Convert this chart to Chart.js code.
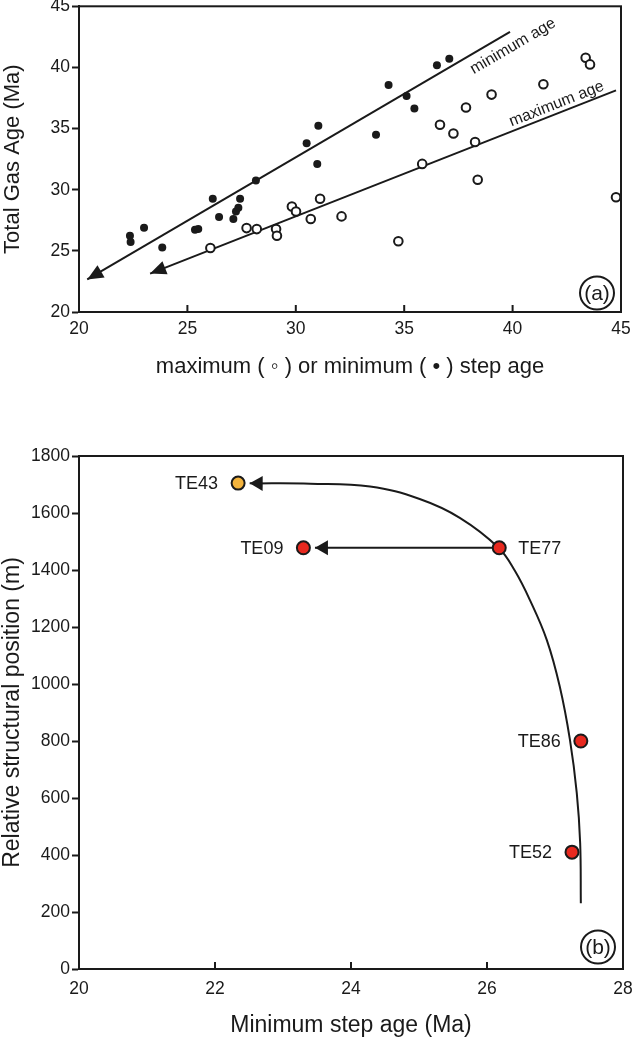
<!DOCTYPE html>
<html>
<head>
<meta charset="utf-8">
<script src="https://cdn.jsdelivr.net/npm/chart.js@4.4.1/dist/chart.umd.min.js"></script>
<style>
  body { margin: 0; background: #fff; width: 634px; height: 1041px; overflow: hidden; position: relative; }
  canvas { position: absolute; left: 0; }
  #chartA { top: 0; }
  #chartB { top: 400px; }
</style>
</head>
<body>
<canvas id="chartA" width="634" height="390"></canvas>
<canvas id="chartB" width="634" height="641"></canvas>
<script>
// ---- panel (a): total gas age vs step ages ----
const minStepAge = [22.35, 22.38, 23.0, 23.84, 25.35, 25.5, 26.17, 26.46, 27.12, 27.24, 27.35, 27.43, 28.16, 30.5, 30.99, 31.04, 33.7, 34.28, 35.11, 35.47, 36.51, 37.08]
const minGasAge  = [26.24, 25.73, 26.9, 25.27, 26.73, 26.78, 29.26, 27.76, 27.6, 28.22, 28.52, 29.26, 30.75, 33.8, 32.1, 35.23, 34.5, 38.57, 37.67, 36.64, 40.17, 40.71]
const maxStepAge = [26.06, 27.73, 28.2, 29.09, 29.13, 29.82, 30.01, 30.69, 31.12, 32.11, 34.73, 35.83, 36.65, 37.27, 37.85, 38.27, 38.39, 39.03, 41.42, 43.37, 43.57, 44.77]
const maxGasAge  = [25.23, 26.86, 26.78, 26.78, 26.24, 28.63, 28.22, 27.6, 29.26, 27.82, 25.78, 32.11, 35.31, 34.6, 36.72, 33.9, 30.81, 37.78, 38.62, 40.79, 40.25, 29.39]
const minTrendX = [20.38, 39.88]
const minTrendY = [22.66, 42.91]
const maxTrendX = [23.28, 44.77]
const maxTrendY = [23.14, 38.13]

// ---- panel (b): structural position vs minimum step age ----
const samples    = ['TE43', 'TE09', 'TE77', 'TE86', 'TE52']
const sampleAge  = [22.34, 23.30, 26.18, 27.38, 27.25]
const samplePos  = [1705, 1478, 1478, 800, 410]
const curveAge   = [22.51, 23.40, 24.28, 25.01, 25.60, 26.17, 26.41, 26.63, 26.88, 27.07, 27.22, 27.32, 27.37, 27.38]
const curvePos   = [1704, 1703, 1693, 1649, 1583, 1478, 1397, 1295, 1154, 991, 804, 618, 442, 231]
const shiftAge   = [26.12, 23.47]
const shiftPos   = [1478, 1478]

const sampleColors = ['#f3b33c', '#e8291f', '#e8291f', '#e8291f', '#e8291f']
const labelSide = ['left', 'left', 'right', 'left', 'left']

const FONT = "'Liberation Sans', Arial, sans-serif"
const INK = '#1a1a1a'
const pts = (xs, ys) => xs.map((v, i) => ({x: v, y: ys[i]}))

// frame + inward x ticks
const frame = {
  id: 'frame',
  afterDraw(chart) {
    const {ctx, chartArea: {top, bottom, left, right}, scales: {x}} = chart
    ctx.save()
    ctx.strokeStyle = INK
    ctx.lineWidth = 2
    ctx.strokeRect(left, top, right - left, bottom - top)
    x.ticks.forEach(t => {
      if (t.value <= x.min || t.value >= x.max) return
      const px = x.getPixelForValue(t.value)
      ctx.beginPath()
      ctx.moveTo(px, bottom)
      ctx.lineTo(px, bottom - 7)
      ctx.stroke()
    })
    ctx.restore()
  }
}

// filled arrowheads at the end of a line dataset
const arrowHeads = {
  id: 'arrowHeads',
  afterDatasetsDraw(chart) {
    const ctx = chart.ctx
    chart.data.datasets.forEach((ds, i) => {
      if (!ds.arrow) return
      const el = chart.getDatasetMeta(i).data
      const tip = ds.arrow.at === 'start' ? el[0] : el[el.length - 1]
      const from = ds.arrow.at === 'start' ? el[1] : el[el.length - 2]
      const ang = Math.atan2(tip.y - from.y, tip.x - from.x)
      ctx.save()
      ctx.translate(tip.x, tip.y)
      ctx.rotate(ang)
      ctx.beginPath()
      ctx.moveTo(0, 0)
      ctx.lineTo(-ds.arrow.len, -ds.arrow.half)
      ctx.lineTo(-ds.arrow.len, ds.arrow.half)
      ctx.closePath()
      ctx.fillStyle = INK
      ctx.fill()
      ctx.restore()
    })
  }
}

// text notes: rotated line labels, sample labels, circled panel letter
const notes = {
  id: 'notes',
  afterDraw(chart, args, opts) {
    const {ctx, chartArea, scales: {x, y}} = chart
    ctx.save()
    ctx.fillStyle = INK
    ;(opts.lineLabels || []).forEach(n => {
      const el = chart.getDatasetMeta(n.dataset).data
      const ang = Math.atan2(el[1].y - el[0].y, el[1].x - el[0].x)
      ctx.save()
      ctx.translate(x.getPixelForValue(n.x), y.getPixelForValue(n.y))
      ctx.rotate(ang)
      ctx.font = '16px ' + FONT
      ctx.textAlign = 'center'
      ctx.textBaseline = 'middle'
      ctx.fillText(n.text, 0, 0)
      ctx.restore()
    })
    if (opts.pointLabels) {
      const el = chart.getDatasetMeta(opts.pointLabels.dataset).data
      ctx.font = '18px ' + FONT
      ctx.textBaseline = 'middle'
      opts.pointLabels.text.forEach((t, i) => {
        const right = opts.pointLabels.side[i] === 'right'
        ctx.textAlign = right ? 'left' : 'right'
        ctx.fillText(t, el[i].x + (right ? 19 : -20), el[i].y + 1)
      })
    }
    if (opts.panel) {
      const cx = chartArea.right - opts.panel.dx
      const cy = chartArea.bottom - opts.panel.dy
      ctx.beginPath()
      ctx.ellipse(cx, cy, 17, 16.5, 0, 0, Math.PI * 2)
      ctx.lineWidth = 2
      ctx.strokeStyle = INK
      ctx.stroke()
      ctx.font = '21px ' + FONT
      ctx.textAlign = 'center'
      ctx.textBaseline = 'middle'
      ctx.fillText(opts.panel.text, cx, cy + 1)
    }
    ctx.restore()
  }
}

function axis(min, max, step, title, fixed, horizontal, titlePad, titleSize, tickPad) {
  return {
    type: 'linear', min: min, max: max,
    ticks: { stepSize: step, color: INK, font: { family: FONT, size: 17.5 }, padding: tickPad, callback: v => String(v) },
    grid: { drawOnChartArea: false, drawTicks: !horizontal, tickLength: 7, tickWidth: 2, color: INK },
    border: { color: INK, width: 2 },
    title: { display: true, text: title, color: INK, font: { family: FONT, size: titleSize, lineHeight: 1 }, padding: titlePad },
    afterFit(s) {
      if (horizontal) { s.height = fixed; s.paddingLeft = 0; s.paddingRight = 0 }
      else { s.width = fixed; s.paddingTop = 0; s.paddingBottom = 0 }
    }
  }
}

new Chart('chartA', {
  type: 'scatter',
  data: {
    datasets: [
      { data: pts(minStepAge, minGasAge), pointRadius: 4, backgroundColor: INK, borderWidth: 0 },
      { data: pts(maxStepAge, maxGasAge), pointRadius: 4.3, backgroundColor: '#fff', borderColor: INK, borderWidth: 2 },
      { data: pts(minTrendX, minTrendY), showLine: true, borderColor: INK, borderWidth: 2, pointRadius: 0,
        arrow: { at: 'start', len: 16, half: 7 } },
      { data: pts(maxTrendX, maxTrendY), showLine: true, borderColor: INK, borderWidth: 2, pointRadius: 0,
        arrow: { at: 'start', len: 16, half: 7 } }
    ]
  },
  options: {
    responsive: false,
    animation: false,
    layout: { padding: { top: 5, right: 13, left: 0, bottom: 0 } },
    plugins: {
      legend: { display: false },
      tooltip: { enabled: false },
      notes: {
        lineLabels: [
          { dataset: 2, text: 'minimum age', x: 40.02, y: 41.74 },
          { dataset: 3, text: 'maximum age', x: 42.03, y: 37.0 }
        ],
        panel: { text: '(a)', dx: 24, dy: 19 }
      }
    },
    scales: {
      x: axis(20, 45, 5, 'maximum ( \u25E6 ) or minimum ( \u2022 ) step age', 78, true, { top: 0, bottom: 12 }, 22, 7),
      y: axis(20, 45, 5, 'Total Gas Age (Ma)', 79, false, { top: 2, bottom: 0 }, 22, 2)
    }
  },
  plugins: [frame, arrowHeads, notes]
})

new Chart('chartB', {
  type: 'scatter',
  data: {
    datasets: [
      { data: pts(sampleAge, samplePos), pointRadius: 6.5, backgroundColor: sampleColors, borderColor: INK, borderWidth: 2 },
      { data: pts(shiftAge, shiftPos), showLine: true, borderColor: INK, borderWidth: 2, pointRadius: 0,
        arrow: { at: 'end', len: 13, half: 7.5 } },
      { data: pts(curveAge, curvePos), showLine: true, borderColor: INK, borderWidth: 2, pointRadius: 0,
        tension: 0.4, arrow: { at: 'start', len: 13, half: 7.5 } }
    ]
  },
  options: {
    responsive: false,
    animation: false,
    layout: { padding: { top: 56, right: 11, left: 0, bottom: 0 } },
    plugins: {
      legend: { display: false },
      tooltip: { enabled: false },
      notes: {
        pointLabels: { dataset: 0, text: samples, side: labelSide },
        panel: { text: '(b)', dx: 25, dy: 22 }
      }
    },
    scales: {
      x: axis(20, 28, 2, 'Minimum step age (Ma)', 72, true, { top: 0, bottom: 4 }, 23, 10),
      y: axis(0, 1800, 200, 'Relative structural position (m)', 79, false, { top: 1, bottom: 0 }, 23, 2)
    }
  },
  plugins: [frame, arrowHeads, notes]
})
</script>
</body>
</html>
